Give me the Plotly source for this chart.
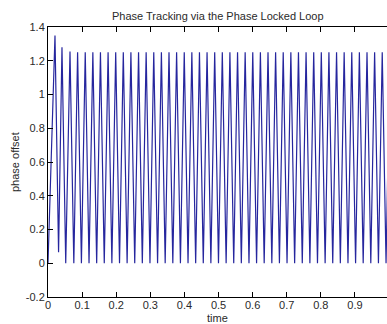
import plotly.graph_objects as go

# Peaks and troughs of the phase offset signal
peak_t = [0.0205, 0.0410, 0.0645, 0.0868, 0.1092, 0.1315, 0.1538, 0.1762, 0.1985, 0.2208,
          0.2431, 0.2655, 0.2878, 0.3101, 0.3325, 0.3548, 0.3771, 0.3995, 0.4218, 0.4441,
          0.4664, 0.4888, 0.5111, 0.5334, 0.5558, 0.5781, 0.6004, 0.6228, 0.6451, 0.6674,
          0.6897, 0.7121, 0.7344, 0.7567, 0.7791, 0.8014, 0.8237, 0.8461, 0.8684, 0.8907,
          0.9130, 0.9354, 0.9577, 0.9800]
peak_v = [1.35, 1.28, 1.255, 1.25, 1.25, 1.25, 1.25, 1.25, 1.25, 1.25,
          1.25, 1.25, 1.25, 1.25, 1.25, 1.25, 1.25, 1.25, 1.25, 1.25,
          1.25, 1.25, 1.25, 1.25, 1.25, 1.25, 1.25, 1.25, 1.25, 1.25,
          1.25, 1.25, 1.25, 1.25, 1.25, 1.25, 1.25, 1.25, 1.25, 1.25,
          1.25, 1.25, 1.25, 1.25]
trough_t = [0.0000, 0.0310, 0.0520, 0.0757, 0.0980, 0.1203, 0.1427, 0.1650, 0.1873, 0.2097,
            0.2320, 0.2543, 0.2766, 0.2990, 0.3213, 0.3436, 0.3660, 0.3883, 0.4106, 0.4330,
            0.4553, 0.4776, 0.4999, 0.5223, 0.5446, 0.5669, 0.5893, 0.6116, 0.6339, 0.6563,
            0.6786, 0.7009, 0.7232, 0.7456, 0.7679, 0.7902, 0.8126, 0.8349, 0.8572, 0.8796,
            0.9019, 0.9242, 0.9465, 0.9689, 0.9912]
trough_v = [0.0, 0.065, 0.0, 0.0, 0.0, 0.0, 0.0, 0.0, 0.0, 0.0,
            0.0, 0.0, 0.0, 0.0, 0.0, 0.0, 0.0, 0.0, 0.0, 0.0,
            0.0, 0.0, 0.0, 0.0, 0.0, 0.0, 0.0, 0.0, 0.0, 0.0,
            0.0, 0.0, 0.0, 0.0, 0.0, 0.0, 0.0, 0.0, 0.0, 0.0,
            0.0, 0.0, 0.0, 0.0, 0.0]
end_t = 1.0
end_v = 0.98

x_ticks = [0, 0.1, 0.2, 0.3, 0.4, 0.5, 0.6, 0.7, 0.8, 0.9, 1.0]
x_labels = ["0", "0.1", "0.2", "0.3", "0.4", "0.5", "0.6", "0.7", "0.8", "0.9", "1"]
y_ticks = [-0.2, 0, 0.2, 0.4, 0.6, 0.8, 1.0, 1.2, 1.4]
y_labels = ["-0.2", "0", "0.2", "0.4", "0.6", "0.8", "1", "1.2", "1.4"]

# interleave troughs and peaks into one polyline
xs, ys = [], []
for i in range(len(peak_t)):
    xs += [trough_t[i], peak_t[i]]
    ys += [trough_v[i], peak_v[i]]
xs += [trough_t[-1], end_t]
ys += [trough_v[-1], end_v]

font = dict(family="Liberation Sans, Arial, sans-serif", size=11, color="#2a2a2a")

fig = go.Figure()
fig.add_trace(go.Scatter(x=xs, y=ys, mode="lines",
                         line=dict(color="#26269e", width=1.2), hoverinfo="skip"))

fig.update_layout(
    width=387, height=324,
    margin=dict(l=48, r=0, t=27, b=27, autoexpand=False),
    paper_bgcolor="white", plot_bgcolor="white",
    showlegend=False,
    font=font,
    xaxis=dict(range=[0, 0.994], tickvals=x_ticks, ticktext=x_labels,
               ticks="inside", ticklen=5, tickcolor="black", ticklabelstandoff=-2,
               showline=True, linecolor="black", linewidth=1, mirror="ticks",
               showgrid=False, zeroline=False, tickfont=font),
    yaxis=dict(range=[-0.2, 1.4], tickvals=y_ticks, ticktext=y_labels,
               ticks="inside", ticklen=5, tickcolor="black",
               showline=True, linecolor="black", linewidth=1, mirror=False,
               showgrid=False, zeroline=False, tickfont=font),
    annotations=[
        dict(text="Phase Tracking via the Phase Locked Loop", xref="paper", yref="paper",
             x=0.5, y=1, yshift=11, xanchor="center", yanchor="middle",
             showarrow=False, font=font),
        dict(text="time", xref="paper", yref="paper", x=0.5, y=0, yshift=-21,
             xanchor="center", yanchor="middle", showarrow=False, font=font,
             borderpad=0),
        dict(text="phase offset", xref="paper", yref="paper", x=0, y=0.5, xshift=-33,
             xanchor="center", yanchor="middle", textangle=-90, showarrow=False, font=font),
    ],
)

fig.write_html("out.html")
